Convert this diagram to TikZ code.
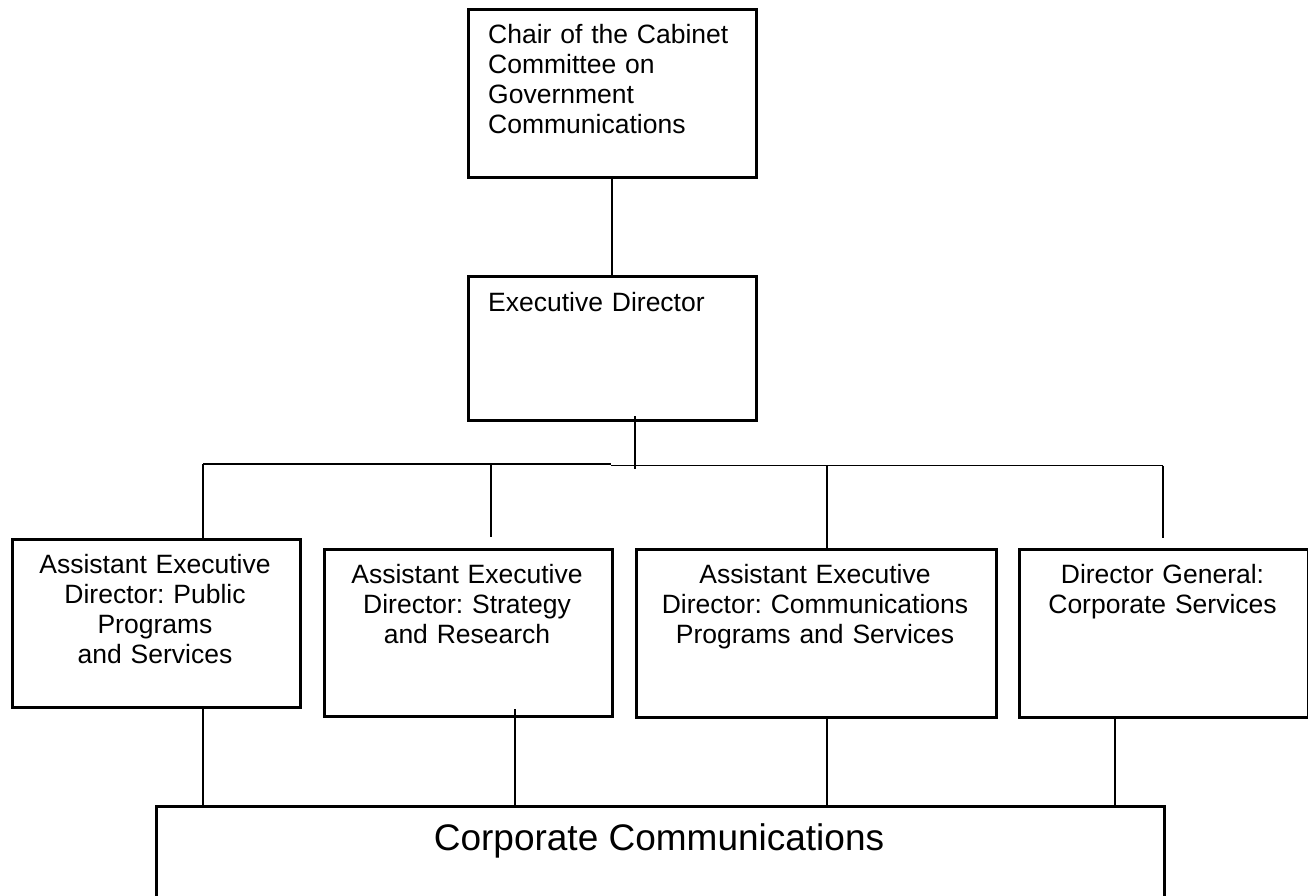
\documentclass[tikz,border=0pt]{standalone}
\usepackage{fontspec}
\setmainfont{Liberation Sans}
\frenchspacing
\begin{document}
\begin{tikzpicture}[x=1pt,y=-1pt,
  box/.style={draw=black, line width=2.6pt, rectangle, inner sep=0pt, anchor=north west},
  link/.style={draw=black, line width=1.9pt},
  lbl/.style={inner sep=0pt, font=\fontsize{26.5}{30}\selectfont, align=center, text width=#1, anchor=base},
  biglbl/.style={inner sep=0pt, font=\fontsize{37}{40}\selectfont, anchor=base},
]
\useasboundingbox (0,0) rectangle (1308,896);
\clip (0,0) rectangle (1308,896);

% boxes
\node[box, minimum width=288pt, minimum height=168pt] (chair) at (467,8) {};
\node[box, minimum width=288pt, minimum height=144pt] (exec) at (467,275) {};
\node[box, minimum width=288pt, minimum height=168pt] (aed1) at (11,538) {};
\node[box, minimum width=288pt, minimum height=167pt] (aed2) at (323,548) {};
\node[box, minimum width=360pt, minimum height=168pt] (aed3) at (635,548) {};
\node[box, minimum width=289pt, minimum height=168pt] (dg) at (1018,548) {};
\node[box, minimum width=1008pt, minimum height=130pt] (cc) at (155,805) {};

% labels
\node[lbl=262pt, align=left, anchor=base west] (chair-t) at (488,44)
  {Chair of the Cabinet\\Committee on\\Government\\Communications};
\node[lbl=262pt, align=left, anchor=base west] (exec-t) at (488,311) {Executive Director};
\node[lbl=280pt] (aed1-t) at (155,573) {Assistant Executive\\Director: Public\\Programs\\and Services};
\node[lbl=280pt] (aed2-t) at (467,583) {Assistant Executive\\Director: Strategy\\and Research};
\node[lbl=350pt] (aed3-t) at (815,583) {Assistant Executive\\Director: Communications\\Programs and Services};
\node[lbl=280pt] (dg-t) at (1162.5,583) {Director General:\\Corporate Services};
\node[biglbl] (cc-t) at (659,850) {Corporate Communications};

% junction points
\coordinate (ed-out) at (635,416);
\coordinate (ed-in) at (635,469);
\coordinate (busL) at (203,464);
\coordinate (busM) at (611,464);
\coordinate (busM2) at (611,465.5);
\coordinate (busR) at (1163,465.5);
\coordinate (b2) at (491,464);
\coordinate (b2e) at (491,537);
\coordinate (b3) at (827,465.5);
\coordinate (b4e) at (1163,538);
\coordinate (u1) at (203,709);
\coordinate (u2) at (515,709);
\coordinate (u3) at (827,716);
\coordinate (u4) at (1115,716);

% connectors
\draw[link] (chair.south) -- (exec.north);
\draw[link] (ed-out) -- (ed-in);
\draw[link] (busL) -- (busM);
\draw[link] (busM2) -- (busR);
\draw[link] (busL) -- (busL |- aed1.north);
\draw[link] (b2) -- (b2e);
\draw[link] (b3) -- (b3 |- aed3.north);
\draw[link] (busR) -- (b4e);
\draw[link] (u1) -- (u1 |- cc.north);
\draw[link] (u2) -- (u2 |- cc.north);
\draw[link] (u3) -- (u3 |- cc.north);
\draw[link] (u4) -- (u4 |- cc.north);
\end{tikzpicture}
\end{document}
